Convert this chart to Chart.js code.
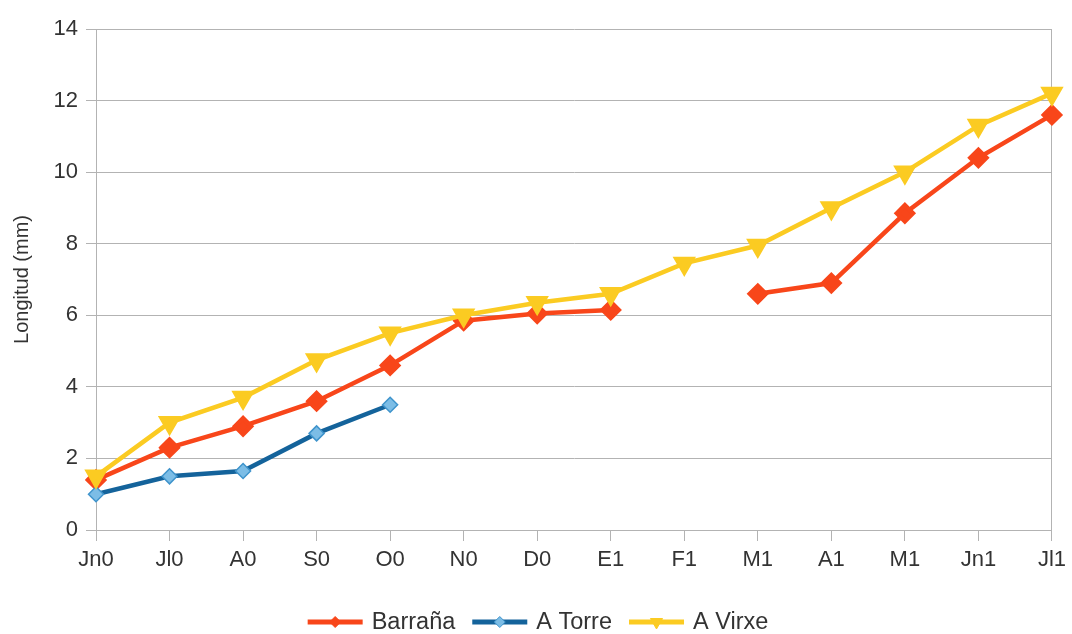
<!DOCTYPE html>
<html>
<head>
<meta charset="utf-8">
<script src="https://cdn.jsdelivr.net/npm/chart.js@4"></script>
<style>
  html, body { margin: 0; padding: 0; background: #ffffff; }
  #wrap { width: 1072px; height: 634px; }
</style>
</head>
<body>
<div id="wrap"><canvas id="chart" width="1072" height="634"></canvas></div>
<script>
// Month labels (June of year 0 through July of year 1)
const months = ['Jn0', 'Jl0', 'A0', 'S0', 'O0', 'N0', 'D0', 'E1', 'F1', 'M1', 'A1', 'M1', 'Jn1', 'Jl1'];

// Length in mm per site
const barrana = [1.4, 2.3, 2.9, 3.6, 4.6, 5.85, 6.05, 6.15, null, 6.6, 6.9, 8.85, 10.4, 11.6];
const aTorre  = [1.0, 1.5, 1.65, 2.7, 3.5, null, null, null, null, null, null, null, null, null];
const aVirxe  = [1.5, 3.0, 3.7, 4.75, 5.5, 6.0, 6.35, 6.6, 7.45, 7.95, 9.0, 10.0, 11.3, 12.2];

const seriesNames = ['Barraña', 'A Torre', 'A Virxe'];
const yTicks = [0, 2, 4, 6, 8, 10, 12, 14];

const FONT = '"Liberation Sans", Arial, sans-serif';
const TEXT = '#333333';
const GRID = '#b3b3b3';

// Legend with a short line and the series marker in its middle
const lineLegend = {
  id: 'lineLegend',
  afterDraw(chart) {
    const ctx = chart.ctx;
    const y = 622;
    const lineW = 55, gapText = 9, gapItem = 17;
    ctx.save();
    ctx.font = '23.5px ' + FONT;
    const items = chart.data.datasets.map(ds => ({ ds, w: ctx.measureText(ds.label).width }));
    const total = items.reduce((s, it) => s + lineW + gapText + it.w, 0) + gapItem * (items.length - 1);
    let x = 538 - total / 2;
    items.forEach(({ ds, w }) => {
      ctx.strokeStyle = ds.borderColor;
      ctx.lineWidth = 5;
      ctx.beginPath();
      ctx.moveTo(x, y);
      ctx.lineTo(x + lineW, y);
      ctx.stroke();
      ctx.fillStyle = ds.pointBackgroundColor;
      ctx.strokeStyle = ds.pointBorderColor;
      ctx.lineWidth = 1;
      Chart.helpers.drawPoint(ctx, {
        pointStyle: ds.pointStyle,
        rotation: ds.pointRotation || 0,
        radius: ds.pointStyle === 'triangle' ? 7 : 5.5,
        borderWidth: 1
      }, x + lineW / 2, y);
      ctx.fillStyle = TEXT;
      ctx.textBaseline = 'middle';
      ctx.textAlign = 'left';
      ctx.fillText(ds.label, x + lineW + gapText, y + 1);
      x += lineW + gapText + w + gapItem;
    });
    ctx.restore();
  }
};

new Chart(document.getElementById('chart'), {
  type: 'line',
  data: {
    labels: months,
    datasets: [
      {
        label: seriesNames[0],
        data: barrana,
        borderColor: '#f8461a',
        backgroundColor: '#f8461a',
        pointBackgroundColor: '#f8461a',
        pointBorderColor: '#f8461a',
        pointStyle: 'rectRot',
        pointRadius: 8,
        borderWidth: 4.5,
        spanGaps: false,
        order: 3
      },
      {
        label: seriesNames[1],
        data: aTorre,
        borderColor: '#14639b',
        backgroundColor: '#14639b',
        pointBackgroundColor: '#7cbde6',
        pointBorderColor: '#3f94cc',
        pointBorderWidth: 1.5,
        pointStyle: 'rectRot',
        pointRadius: 7.5,
        borderWidth: 4.5,
        order: 2
      },
      {
        label: seriesNames[2],
        data: aVirxe,
        borderColor: '#fbcb22',
        backgroundColor: '#fbcb22',
        pointBackgroundColor: '#fbcb22',
        pointBorderColor: '#fbcb22',
        pointStyle: 'triangle',
        pointRotation: 180,
        pointRadius: 9,
        borderWidth: 4.5,
        order: 1
      }
    ]
  },
  options: {
    responsive: false,
    animation: false,
    layout: { padding: { top: 29, right: 17, bottom: 30, left: 6 } },
    elements: { line: { tension: 0 } },
    plugins: {
      legend: { display: false },
      tooltip: { enabled: false }
    },
    scales: {
      x: {
        type: 'category',
        offset: false,
        afterFit: (scale) => { scale.height = 74; },
        grid: {
          drawOnChartArea: true,
          color: (c) => (c.index === months.length - 1 ? GRID : 'rgba(0,0,0,0)'),
          tickColor: GRID,
          tickLength: 11,
          lineWidth: 1
        },
        border: { display: true, color: GRID, width: 1 },
        ticks: {
          color: TEXT,
          font: { family: FONT, size: 22 },
          padding: 6,
          maxRotation: 0,
          autoSkip: false
        }
      },
      y: {
        min: 0,
        max: 14,
        afterFit: (scale) => { scale.width = 90; },
        afterBuildTicks: (scale) => { scale.ticks = yTicks.map(v => ({ value: v })); },
        grid: {
          color: GRID,
          tickColor: GRID,
          tickLength: 10,
          lineWidth: 1
        },
        border: { display: true, color: GRID, width: 1 },
        ticks: {
          color: TEXT,
          font: { family: FONT, size: 22 },
          padding: 8
        },
        title: {
          display: true,
          text: 'Longitud (mm)',
          color: TEXT,
          font: { family: FONT, size: 20 },
          padding: { top: 4, bottom: 0 }
        }
      }
    }
  },
  plugins: [lineLegend]
});
</script>
</body>
</html>
